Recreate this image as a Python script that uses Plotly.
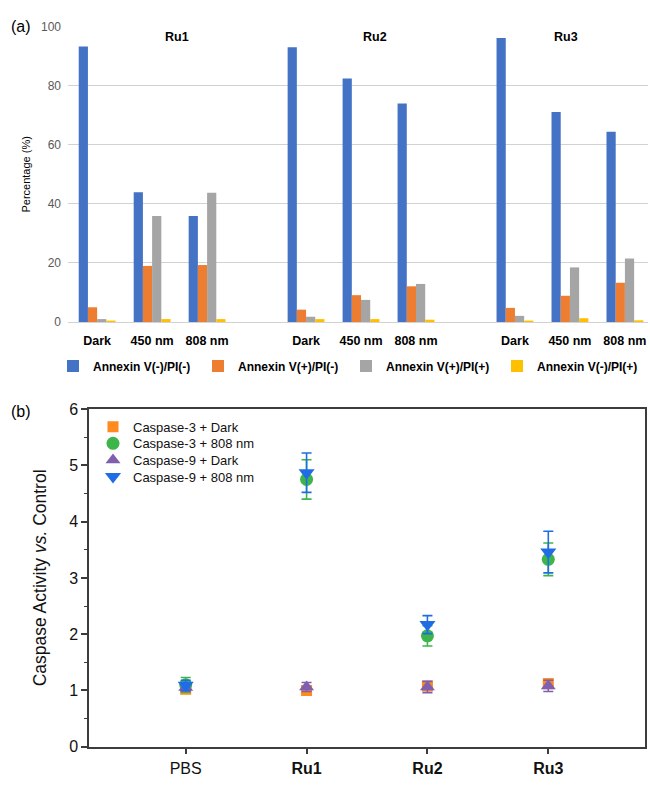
import plotly.graph_objects as go

W, H = 650, 786

# ---------------- Panel (a) data ----------------
compounds = ["Ru1", "Ru2", "Ru3"]
conditions = ["Dark", "450 nm", "808 nm"]
annexin_series = ["Annexin V(-)/PI(-)", "Annexin V(+)/PI(-)", "Annexin V(+)/PI(+)", "Annexin V(-)/PI(+)"]
annexin_colors = ["#4472C4", "#ED7D31", "#A5A5A5", "#FFC000"]
# order: Ru1 Dark, Ru1 450, Ru1 808, Ru2 Dark, ..., Ru3 808
live = [93.3, 43.9, 35.9, 93.0, 82.4, 74.0, 96.1, 71.1, 64.4]
early_apop = [5.0, 19.0, 19.3, 4.2, 9.1, 12.1, 4.8, 8.9, 13.3]
late_apop = [1.0, 35.9, 43.8, 1.8, 7.5, 12.9, 2.1, 18.5, 21.5]
necrotic = [0.45, 1.0, 1.0, 1.0, 1.0, 0.8, 0.5, 1.3, 0.6]
annexin_values = [live, early_apop, late_apop, necrotic]

# ---------------- Panel (b) data ----------------
groups_b = ["PBS", "Ru1", "Ru2", "Ru3"]
group_labels_b = ["PBS", "<b>Ru1</b>", "<b>Ru2</b>", "<b>Ru3</b>"]
casp_names = ["Caspase-3 + Dark", "Caspase-3 + 808 nm", "Caspase-9 + Dark", "Caspase-9 + 808 nm"]
casp3_dark = [1.02, 1.00, 1.08, 1.12]
casp3_dark_err = [0.06, 0.06, 0.07, 0.08]
casp3_808 = [1.10, 4.75, 1.97, 3.33]
casp3_808_err = [0.13, 0.35, 0.18, 0.29]
casp9_dark = [1.05, 1.06, 1.06, 1.08]
casp9_dark_err = [0.06, 0.08, 0.10, 0.10]
casp9_808 = [1.09, 4.87, 2.17, 3.46]
casp9_808_err = [0.09, 0.35, 0.16, 0.37]
casp_values = [casp3_dark, casp3_808, casp9_dark, casp9_808]
casp_errors = [casp3_dark_err, casp3_808_err, casp9_dark_err, casp9_808_err]
casp_colors = ["#FF8A1E", "#3DB54A", "#7F5FAE", "#1F6CE6"]
casp_symbols = ["square", "circle", "triangle-up", "triangle-down"]
casp_sizes = [11, 13, 13, 14]

FONT = "Liberation Sans, Arial, sans-serif"


def px_x(p):
    return p / W


def px_y(p):
    return 1 - p / H


fig = go.Figure()

# positions for panel (a): groups separated by a wider gap
group_step = 3.8
xpos = [g * group_step + j for g in range(len(compounds)) for j in range(len(conditions))]
xticktext = ["<b>%s</b>" % c for _ in compounds for c in conditions]

# one single-item legend per series so each entry sits where the reference has it
top_leg_px = [53, 198, 346, 497]
bot_leg_py = [428, 445, 462, 479]
legends = {}

for i, (name, vals, col) in enumerate(zip(annexin_series, annexin_values, annexin_colors)):
    lname = "legend" if i == 0 else "legend%d" % (i + 1)
    fig.add_trace(go.Bar(
        x=xpos, y=vals, name=name, marker=dict(color=col, line=dict(width=0)),
        xaxis="x", yaxis="y", legend=lname, showlegend=True,
    ))
    legends[lname] = dict(
        x=px_x(top_leg_px[i]), y=px_y(366), xanchor="left", yanchor="middle",
        font=dict(size=12, color="#000000", family=FONT, weight="bold"),
        bgcolor="rgba(0,0,0,0)", borderwidth=0, itemwidth=30, visible=True,
    )

for i, (name, vals, errs, col, sym, sz) in enumerate(zip(casp_names, casp_values, casp_errors,
                                                         casp_colors, casp_symbols, casp_sizes)):
    lname = "legend%d" % (i + 5)
    fig.add_trace(go.Scatter(
        x=list(range(len(groups_b))), y=vals, name=name, mode="markers",
        marker=dict(color=col, symbol=sym, size=sz, line=dict(width=0)),
        error_y=dict(type="data", array=errs, color=col, thickness=1.6, width=5),
        xaxis="x2", yaxis="y2", legend=lname, showlegend=True,
    ))
    legends[lname] = dict(
        x=px_x(93), y=px_y(bot_leg_py[i]), xanchor="left", yanchor="middle",
        font=dict(size=13, color="#111111", family=FONT),
        bgcolor="rgba(0,0,0,0)", borderwidth=0, itemwidth=30, visible=True,
    )

fig.update_layout(
    width=W, height=H,
    showlegend=True,
    margin=dict(l=0, r=0, t=0, b=0),
    paper_bgcolor="white", plot_bgcolor="white",
    font=dict(family=FONT, color="#000000"),
    barmode="group", bargap=0.33, bargroupgap=0,
    xaxis=dict(
        domain=[px_x(68), px_x(648)], anchor="y",
        range=[-0.53, 10.02], tickmode="array", tickvals=xpos, ticktext=xticktext,
        showgrid=False, showline=False, zeroline=False, ticks="",
        tickfont=dict(size=12.5, color="#000000"), ticklabelstandoff=9,
    ),
    yaxis=dict(
        domain=[px_y(321), px_y(19)], anchor="x",
        range=[0, 100], tickmode="array", tickvals=[0, 20, 40, 60, 80, 100],
        showgrid=True, gridcolor="#D2D2D2", gridwidth=1.3, layer="below traces",
        zeroline=True, zerolinecolor="#D2D2D2", zerolinewidth=1.3,
        showline=False, ticks="", tickfont=dict(size=12, color="#595959"),
        ticklabelstandoff=6,
        title=dict(text="Percentage (%)", font=dict(size=11, color="#000000"), standoff=8),
    ),
    xaxis2=dict(
        domain=[px_x(89), px_x(645)], anchor="y2",
        range=[-0.8, 3.8], tickmode="array", tickvals=list(range(len(groups_b))),
        ticktext=group_labels_b,
        showgrid=False, zeroline=False, showline=True, linecolor="#3C3C3C", linewidth=1.5,
        mirror=True, ticks="outside", ticklen=6, tickwidth=1.5, tickcolor="#3C3C3C",
        tickfont=dict(size=16, color="#111111"),
    ),
    yaxis2=dict(
        domain=[px_y(755), px_y(410)], anchor="x2",
        range=[0, 6], dtick=1, tick0=0,
        showgrid=False, zeroline=False, showline=True, linecolor="#3C3C3C", linewidth=1.5,
        mirror=True, ticks="outside", ticklen=6, tickwidth=1.5, tickcolor="#3C3C3C",
        minor=dict(dtick=0.5, ticks="outside", ticklen=3, tickwidth=1.2, tickcolor="#3C3C3C"),
        tickfont=dict(size=16, color="#111111"),
        title=dict(text="Caspase Activity <i>vs.</i> Control", font=dict(size=17.5, color="#111111"),
                   standoff=18),
    ),
    annotations=[
        dict(text="<b>Ru1</b>", x=px_x(177), y=px_y(30), xref="paper", yref="paper",
             xanchor="center", yanchor="middle",
             showarrow=False, font=dict(size=12.5, color="#000000")),
        dict(text="<b>Ru2</b>", x=px_x(375), y=px_y(30), xref="paper", yref="paper",
             xanchor="center", yanchor="middle",
             showarrow=False, font=dict(size=12.5, color="#000000")),
        dict(text="<b>Ru3</b>", x=px_x(566), y=px_y(30), xref="paper", yref="paper",
             xanchor="center", yanchor="middle",
             showarrow=False, font=dict(size=12.5, color="#000000")),
        dict(text="(a)", x=px_x(21), y=px_y(19), xref="paper", yref="paper",
             xanchor="center", yanchor="middle",
             showarrow=False, font=dict(size=16, color="#000000")),
        dict(text="(b)", x=px_x(21), y=px_y(412), xref="paper", yref="paper",
             xanchor="center", yanchor="middle",
             showarrow=False, font=dict(size=16, color="#000000")),
    ],
    **legends,
)

fig.write_html(
    "out.html",
    config={"displayModeBar": False},
    post_script="document.body.style.margin='0px';document.body.style.overflow='hidden';",
)
